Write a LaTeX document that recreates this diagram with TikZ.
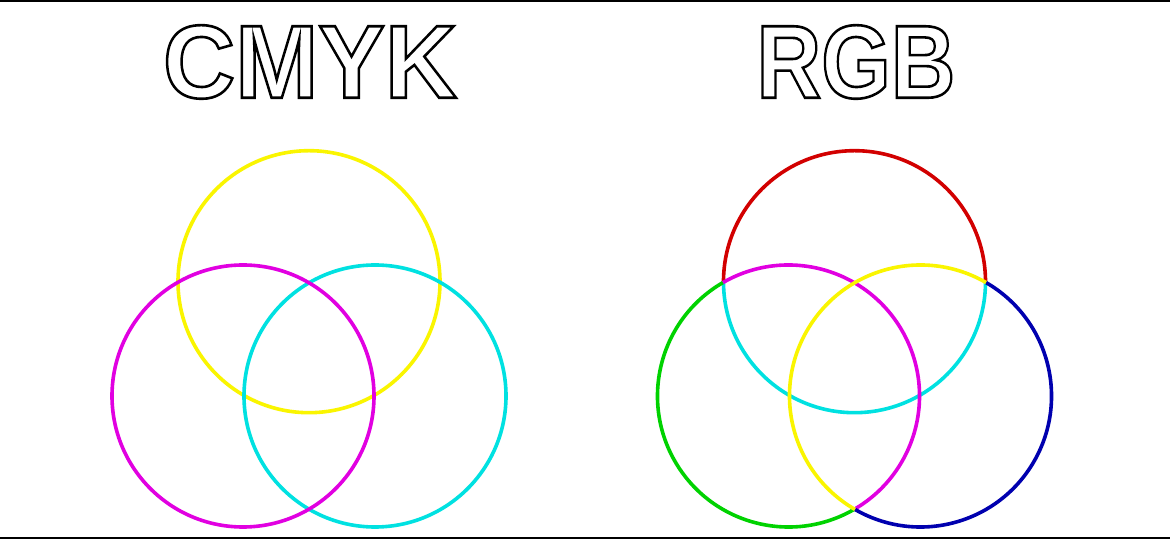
\documentclass[tikz,border=0pt]{standalone}
\usepackage{fontspec}
\setmainfont{Liberation Sans}
\usepackage{graphicx}
\newcommand{\outlinetext}[1]{\special{pdf:code q 1 Tr 2.6 w 0 0 0 RG}#1\special{pdf:code Q}}
\definecolor{cY}{RGB}{250,245,0}
\definecolor{cM}{RGB}{225,0,225}
\definecolor{cC}{RGB}{0,225,225}
\definecolor{cR}{RGB}{210,0,0}
\definecolor{cG}{RGB}{0,210,0}
\definecolor{cB}{RGB}{0,0,175}
\begin{document}
\begin{tikzpicture}[x=1pt,y=1pt,
  ring/.style={line width=3.6pt},
  title/.style={inner sep=0pt, font=\fontsize{104}{104}\bfseries\selectfont}]
\useasboundingbox (0,0) rectangle (1170,540);
\fill[white] (0,0) rectangle (1170,540);
\draw[line width=2pt] (0,539) -- (1170,539);
\draw[line width=2pt] (0,1.5) -- (1170,1.5);
% titles
\node[title] (cmyk) at (310,478) {\scalebox{0.96}[1]{\outlinetext{CMYK}}};
\node[title] (rgb) at (856,478) {\scalebox{0.86}[1]{\outlinetext{RGB}}};
% CMYK circles
\def\r{131}
\coordinate (ct) at (309,258.3);
\coordinate (cl) at (243,144);
\coordinate (cr) at (375,144);
\draw[ring, cY] (ct) circle[radius=\r];
\draw[ring, cC] (cr) circle[radius=\r];
\draw[ring, cM] (cl) circle[radius=\r];
% RGB circles
\coordinate (rt) at (854.5,258.3);
\coordinate (rl) at (788.5,144);
\coordinate (rr) at (920.5,144);
% red circle
\draw[ring, cR] (rt) ++(0:\r) arc[start angle=0, end angle=180, radius=\r];
\draw[ring, cC] (rt) ++(180:\r) arc[start angle=180, end angle=360, radius=\r];
% green circle
\draw[ring, cG] (rl) ++(120:\r) arc[start angle=120, end angle=300, radius=\r];
\draw[ring, cM] (rl) ++(300:\r) arc[start angle=300, end angle=480, radius=\r];
% blue circle
\draw[ring, cB] (rr) ++(240:\r) arc[start angle=240, end angle=420, radius=\r];
\draw[ring, cY] (rr) ++(60:\r) arc[start angle=60, end angle=240, radius=\r];
\end{tikzpicture}
\end{document}
